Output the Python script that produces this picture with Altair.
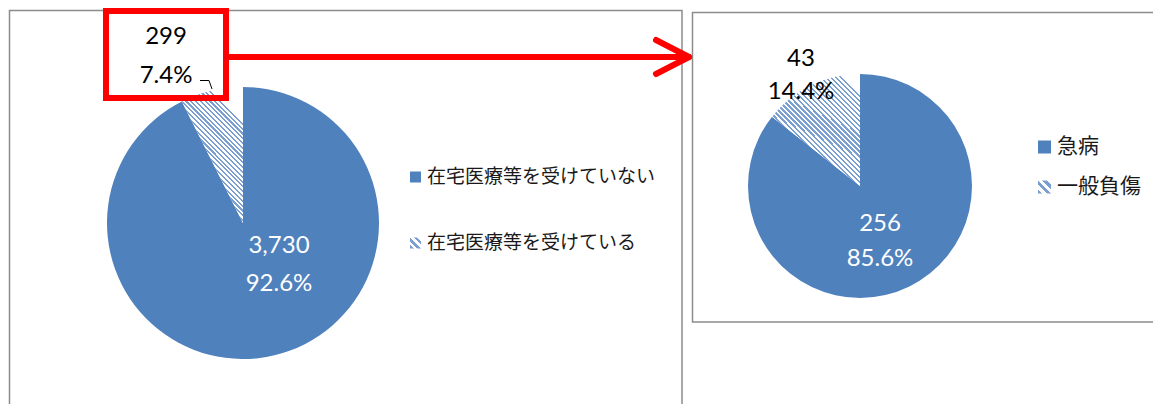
import altair as alt
import pandas as pd

# ---- data ----
left_categories = ["在宅医療等を受けていない", "在宅医療等を受けている"]
left_values = [3730, 299]
right_categories = ["急病", "一般負傷"]
right_values = [256, 43]

BLUE = "#4F81BD"
STRIPE = "#7C9FD2"
GRAY = "#8C8C8C"
RED = "#FF0000"
JP_FONT = "Noto Sans CJK JP"
NUM_FONT = "Lato"


def stripes(x2, y2, n, frac=0.45):
    stops = []
    for i in range(n):
        a = i / n
        b = (i + frac) / n
        c = (i + 1) / n
        stops += [
            {"offset": a, "color": STRIPE},
            {"offset": b, "color": STRIPE},
            {"offset": b, "color": "#ffffff"},
            {"offset": c, "color": "#ffffff"},
        ]
    return {"gradient": "linear", "x1": 0, "y1": 1, "x2": x2, "y2": y2, "stops": stops}


def make_df(cats, vals):
    total = sum(vals)
    return pd.DataFrame({
        "category": cats,
        "value": vals,
        "idx": list(range(len(cats))),
        "label": [f"{v:,}\n{v / total:.1%}" for v in vals],
    })


left_df = make_df(left_categories, left_values)
right_df = make_df(right_categories, right_values)
dummy = pd.DataFrame({"a": [0]})

left_grad = stripes(0.45, 0, 34)
right_grad = stripes(0.79, 0, 36)
legend_grad = stripes(1, 0, 3, 0.5)

layers = []

# frames
layers.append(alt.Chart(dummy).mark_rect(fillOpacity=0, stroke=GRAY, strokeWidth=1.5).encode(
    x=alt.value(9.5), x2=alt.value(682), y=alt.value(10.5), y2=alt.value(420)))
layers.append(alt.Chart(dummy).mark_rect(fillOpacity=0, stroke=GRAY, strokeWidth=1.5).encode(
    x=alt.value(692.5), x2=alt.value(1170), y=alt.value(12.5), y2=alt.value(322)))


def pie(df, cx, cy, r, grad):
    return alt.Chart(df).mark_arc(radius=r, strokeWidth=0).encode(
        theta=alt.Theta("value:Q", stack=True),
        order=alt.Order("idx:Q"),
        fill=alt.condition(alt.datum.idx == 1, alt.value(grad), alt.value(BLUE)),
        x=alt.value(cx), y=alt.value(cy),
    )


layers.append(pie(left_df, 243, 223, 136, left_grad))
layers.append(pie(right_df, 860, 186, 112, right_grad))


def label(df, idx, x, y, lh, color):
    return alt.Chart(df).transform_filter(alt.datum.idx == idx).mark_text(
        font=NUM_FONT, fontSize=24, lineBreak="\n", lineHeight=lh,
        align="center", baseline="middle", color=color,
    ).encode(text="label:N", x=alt.value(x), y=alt.value(y))


layers.append(label(left_df, 1, 166, 37, 39, "black"))
layers.append(label(left_df, 0, 279, 246, 38, "white"))
layers.append(label(right_df, 1, 801, 59, 33, "black"))
layers.append(label(right_df, 0, 880, 224, 35, "white"))


def legend(df, idx, x, y, size, fs, grad):
    fill = grad if idx == 1 else BLUE
    sq = alt.Chart(df).transform_filter(alt.datum.idx == idx).mark_rect(strokeWidth=0).encode(
        x=alt.value(x), x2=alt.value(x + size),
        y=alt.value(y - size / 2), y2=alt.value(y + size / 2),
        fill=alt.value(fill))
    tx = alt.Chart(df).transform_filter(alt.datum.idx == idx).mark_text(
        font=JP_FONT, fontSize=fs, align="left", baseline="middle", color="#1a1a1a",
    ).encode(text="category:N", x=alt.value(x + size + 6), y=alt.value(y))
    return [sq, tx]


layers += legend(left_df, 0, 410, 177, 11, 19, legend_grad)
layers += legend(left_df, 1, 410, 243, 11, 19, legend_grad)
layers += legend(right_df, 0, 1038, 147, 13, 21, legend_grad)
layers += legend(right_df, 1, 1038, 187, 13, 21, legend_grad)

# leader line for small label
layers.append(alt.Chart(dummy).mark_rule(color="black", strokeWidth=1).encode(
    x=alt.value(200), x2=alt.value(209), y=alt.value(80.5), y2=alt.value(80.5)))
layers.append(alt.Chart(dummy).mark_rule(color="black", strokeWidth=1).encode(
    x=alt.value(209), x2=alt.value(212), y=alt.value(80.5), y2=alt.value(89)))

# red highlight box and arrow
layers.append(alt.Chart(dummy).mark_rect(fillOpacity=0, stroke=RED, strokeWidth=6).encode(
    x=alt.value(106), x2=alt.value(226), y=alt.value(11), y2=alt.value(98)))
layers.append(alt.Chart(dummy).mark_rule(color=RED, strokeWidth=6).encode(
    x=alt.value(229), x2=alt.value(688), y=alt.value(57), y2=alt.value(57)))
layers.append(alt.Chart(dummy).mark_rule(color=RED, strokeWidth=6, strokeCap="round").encode(
    x=alt.value(656), x2=alt.value(689), y=alt.value(40), y2=alt.value(57)))
layers.append(alt.Chart(dummy).mark_rule(color=RED, strokeWidth=6, strokeCap="round").encode(
    x=alt.value(656), x2=alt.value(689), y=alt.value(74), y2=alt.value(57)))

chart = alt.layer(*layers).properties(
    width=1153, height=404, padding=0, autosize="none", background="white"
).resolve_scale(theta="independent").configure_view(stroke=None)

chart.save("out.html", embed_options={"renderer": "svg", "actions": False})
